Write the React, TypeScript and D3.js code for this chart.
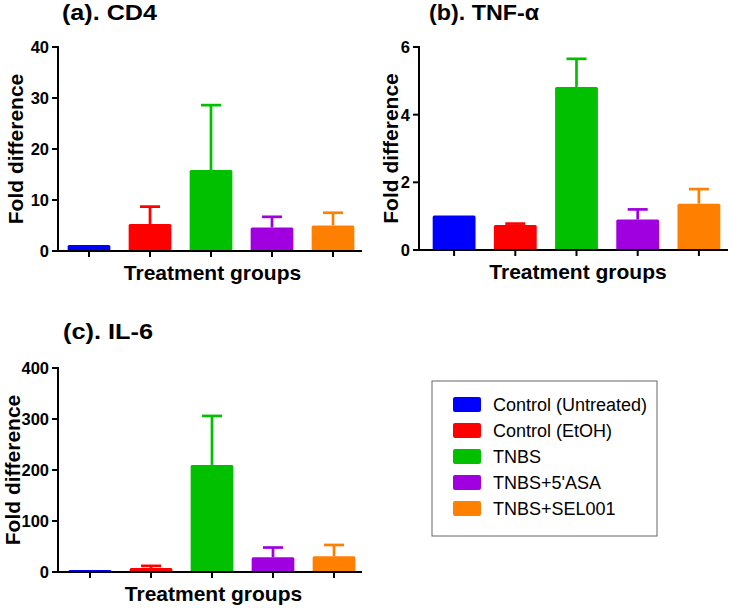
import React from "react";
import * as d3 from "d3";

const groups = ["Control (Untreated)", "Control (EtOH)", "TNBS", "TNBS+5'ASA", "TNBS+SEL001"];
const colors = ["#0000ff", "#ff0000", "#00c000", "#a000e0", "#ff8000"];

const cd4Mean = [1.2, 5.3, 15.9, 4.6, 5.0];
const cd4Err = [0, 3.4, 12.7, 2.1, 2.5];
const tnfMean = [1.02, 0.74, 4.82, 0.9, 1.37];
const tnfErr = [0, 0.04, 0.83, 0.3, 0.43];
const il6Mean = [4, 8, 210, 29, 31];
const il6Err = [0, 4, 96, 19, 22];

const cd4Ticks = [0, 10, 20, 30, 40];
const tnfTicks = [0, 2, 4, 6];
const il6Ticks = [0, 100, 200, 300, 400];

const FONT = "'Liberation Sans', Arial, sans-serif";

type PanelProps = {
  title: string;
  titleX: number;
  titleY: number;
  titleLen: number;
  x0: number;
  yTop: number;
  yBottom: number;
  xEnd: number;
  bandStart: number;
  bandEnd: number;
  labelOffset: number;
  max: number;
  ticks: number[];
  means: number[];
  errs: number[];
};

function Panel(p: PanelProps) {
  const { x0, yTop, yBottom, xEnd, max, ticks, means, errs } = p;
  const y = d3.scaleLinear().domain([0, max]).range([yBottom, yTop]);
  const x = d3.scaleBand().domain(groups).range([p.bandStart, p.bandEnd]).paddingInner(0.3).paddingOuter(0.15);
  const bw = x.bandwidth();
  const midX = (x(groups[2]) as number) + bw / 2;
  return (
    <g>
      <text
        x={p.titleX}
        y={p.titleY}
        fontFamily={FONT}
        fontWeight="bold"
        fontSize={22}
        textLength={p.titleLen}
        lengthAdjust="spacingAndGlyphs"
      >
        {p.title}
      </text>
      {groups.map((g, i) => {
        const cx = (x(g) as number) + bw / 2;
        const top = y(means[i]);
        const et = y(means[i] + errs[i]);
        return (
          <g key={g}>
            {errs[i] > 0 && (
              <>
                <line x1={cx} x2={cx} y1={top} y2={et} stroke={colors[i]} strokeWidth={2.7} />
                <line x1={cx - 10} x2={cx + 10} y1={et} y2={et} stroke={colors[i]} strokeWidth={2.7} />
              </>
            )}
            <rect
              x={x(g)}
              y={top}
              width={bw}
              height={Math.max(yBottom - top, 1.5)}
              fill={colors[i]}
              rx={1.5}
            />
            <line x1={cx} x2={cx} y1={yBottom} y2={yBottom + 6} stroke="#000" strokeWidth={2} />
          </g>
        );
      })}
      <line x1={x0} x2={x0} y1={yTop - 1} y2={yBottom + 1} stroke="#000" strokeWidth={2} />
      <line x1={x0 - 1} x2={xEnd} y1={yBottom} y2={yBottom} stroke="#000" strokeWidth={2} />
      {ticks.map((t) => (
        <g key={t}>
          <line x1={x0 - 6} x2={x0} y1={y(t)} y2={y(t)} stroke="#000" strokeWidth={2} />
          <text
            x={x0 - 9}
            y={y(t)}
            dy="0.36em"
            textAnchor="end"
            fontFamily={FONT}
            fontWeight="bold"
            fontSize={16.5}
          >
            {t}
          </text>
        </g>
      ))}
      <text
        transform={`translate(${x0 - p.labelOffset},${(yTop + yBottom) / 2}) rotate(-90)`}
        textAnchor="middle"
        fontFamily={FONT}
        fontWeight="bold"
        fontSize={21}
      >
        Fold difference
      </text>
      <text
        x={midX + 1.5}
        y={yBottom + 29}
        textAnchor="middle"
        fontFamily={FONT}
        fontWeight="bold"
        fontSize={21}
      >
        Treatment groups
      </text>
    </g>
  );
}

export default function App() {
  return (
    <svg width={732} height={608} style={{ position: "absolute", left: 0, top: 0 }}>
      <rect width={732} height={608} fill="#fff" />
      <Panel
        title="(a). CD4" titleX={62} titleY={20} titleLen={95}
        x0={58} yTop={47} yBottom={251} xEnd={362} bandStart={58.5} bandEnd={363.5} labelOffset={35}
        max={40} ticks={cd4Ticks} means={cd4Mean} errs={cd4Err}
      />
      <Panel
        title="(b). TNF-α" titleX={429} titleY={20} titleLen={110}
        x0={419} yTop={47} yBottom={250} xEnd={728} bandStart={423.5} bandEnd={729.5} labelOffset={21}
        max={6} ticks={tnfTicks} means={tnfMean} errs={tnfErr}
      />
      <Panel
        title="(c). IL-6" titleX={63} titleY={339} titleLen={90}
        x0={58} yTop={368} yBottom={572} xEnd={362} bandStart={59.5} bandEnd={364.5} labelOffset={38}
        max={400} ticks={il6Ticks} means={il6Mean} errs={il6Err}
      />
      <g>
        <rect x={432} y={381} width={225} height={155} fill="#fff" stroke="#666" strokeWidth={1} />
        {groups.map((g, i) => (
          <g key={g}>
            <rect x={453} y={397 + i * 26} width={28} height={15} rx={2} fill={colors[i]} />
            <text x={493} y={405 + i * 26} dy="0.36em" fontFamily={FONT} fontSize={18}>
              {g}
            </text>
          </g>
        ))}
      </g>
    </svg>
  );
}
